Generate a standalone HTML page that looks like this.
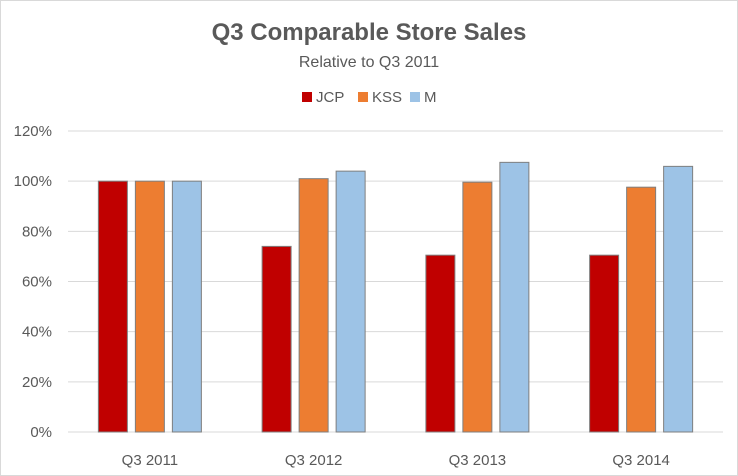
<!DOCTYPE html>
<html><head><meta charset="utf-8"><style>
body{margin:0;background:#fff}
svg{display:block;font-family:"Liberation Sans",sans-serif}
</style></head><body>
<svg id="c" width="738" height="476">
<rect x="0.5" y="0.5" width="737" height="475" fill="#fff" stroke="#d9d9d9"/>
<text x="369" y="40" text-anchor="middle" font-size="24" font-weight="bold" fill="#595959">Q3 Comparable Store Sales</text>
<text x="369" y="67" text-anchor="middle" font-size="16" fill="#595959">Relative to Q3 2011</text>
<g id="legend"></g>
<g id="grid"></g><g id="bars"></g><g id="labels"></g>
</svg>
<script>
const categories=["Q3 2011","Q3 2012","Q3 2013","Q3 2014"];
const seriesNames=["JCP","KSS","M"];
const jcp=[100,74.0,70.5,70.5];
const kss=[100,101.0,99.6,97.6];
const mac=[100,104.0,107.5,105.9];
const yTicks=[0,20,40,60,80,100,120];
const colors=["#c00000","#ed7d31","#9dc3e6"];
const NS="http://www.w3.org/2000/svg";
const L=68,R=723,Y0=432,Y120=131;
const y=v=>Y0-(v/120)*(Y0-Y120);
const bw=(R-L)/categories.length;
const xc=i=>L+bw*(i+0.5);
function mk(t,a,p){const e=document.createElementNS(NS,t);for(const k in a)e.setAttribute(k,a[k]);p.appendChild(e);return e;}
const grid=document.getElementById('grid'),bars=document.getElementById('bars'),lab=document.getElementById('labels'),leg=document.getElementById('legend');
yTicks.forEach(t=>{
  const l=mk('line',{x1:L,x2:R,y1:y(t),y2:y(t),stroke:'#d9d9d9','stroke-width':1},grid);
  
  
  const tx=mk('text',{x:52,y:y(t)+5,'text-anchor':'end','font-size':15,fill:'#595959'},lab);
  tx.textContent=t+'%';
  
  
});
const series=[jcp,kss,mac];
categories.forEach((c,i)=>{
  series.forEach((s,j)=>{
    const cx=xc(i)+(j-1)*37;
    const r=mk('rect',{x:cx-14.5,y:y(s[i]),width:29,height:Y0-y(s[i]),fill:colors[j],stroke:'#7f7f7f','stroke-width':1},bars);
    
    
  });
  const tx=mk('text',{x:xc(i),y:465,'text-anchor':'middle','font-size':15,fill:'#595959'},lab);
  tx.textContent=c;
  
  
});
const lx=[302,358,410];
seriesNames.forEach((n,j)=>{
  const g=mk('g',{},leg);
  
  
  mk('rect',{x:lx[j],y:92,width:10,height:10,fill:colors[j]},g);
  const t=mk('text',{x:lx[j]+14,y:102,'font-size':15,fill:'#595959'},g);
  t.textContent=n;
});
</script>
</body></html>
